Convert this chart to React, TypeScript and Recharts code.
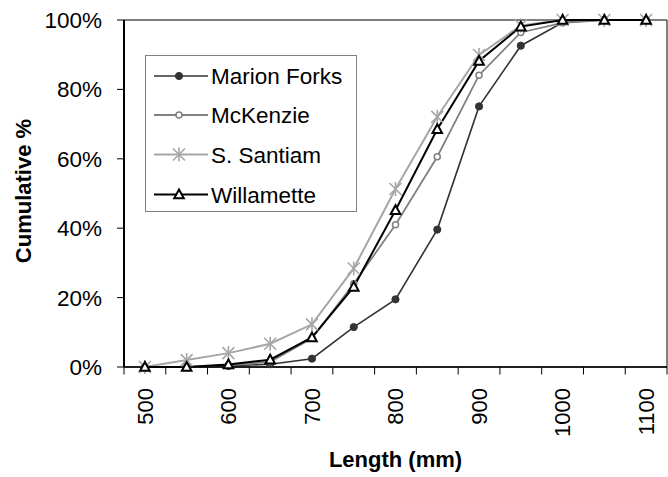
import React from 'react';
import { LineChart, Line, XAxis, YAxis, CartesianGrid, Legend, Label } from 'recharts';

const categories = ['500', '550', '600', '650', '700', '750', '800', '850', '900', '950', '1000', '1050', '1100'];
const marionForks = [0, 0, 0.3, 0.8, 2.4, 11.5, 19.5, 39.6, 75.1, 92.6, 99.3, 100, 100];
const mcKenzie = [0, 0, 0.5, 1.5, 8.3, 24, 41, 60.6, 84.1, 96.4, 99.2, 100, 100];
const sSantiam = [0, 2, 4, 6.7, 12.3, 28.4, 51.3, 72.1, 89.9, 98.4, 100, 100, 100];
const willamette = [0, 0, 0.7, 2.1, 8.5, 23.1, 45.2, 68.5, 88.2, 98.1, 100, 100, 100];
const yTicks = [0, 20, 40, 60, 80, 100];
const labeledCategories = ['500', '600', '700', '800', '900', '1000', '1100'];

const data = categories.map((c, i) => ({
  length: c,
  marion: marionForks[i],
  mckenzie: mcKenzie[i],
  santiam: sSantiam[i],
  willamette: willamette[i],
}));

const FONT = "Arial, 'Liberation Sans', sans-serif";
const W = 668;
const H = 477;
const PLOT_LEFT = 124;
const PLOT_RIGHT = 667;
const BAND = (PLOT_RIGHT - PLOT_LEFT) / categories.length;

const COLORS = {
  marion: '#333333',
  mckenzie: '#808080',
  santiam: '#a6a6a6',
  willamette: '#000000',
};

type MarkerKind = 'filled' | 'open' | 'star' | 'triangle';

function Marker({ kind, cx, cy, color }: { kind: MarkerKind; cx: number; cy: number; color: string }) {
  if (kind === 'filled') return <circle cx={cx} cy={cy} r={3.6} fill={color} stroke={color} strokeWidth={1} />;
  if (kind === 'open') return <circle cx={cx} cy={cy} r={3} fill="#fff" stroke={color} strokeWidth={1.5} />;
  if (kind === 'star') {
    const s = 6;
    return (
      <g stroke={color} strokeWidth={1.6}>
        <line x1={cx} y1={cy - s - 1} x2={cx} y2={cy + s + 1} />
        <line x1={cx - s} y1={cy - s} x2={cx + s} y2={cy + s} />
        <line x1={cx - s} y1={cy + s} x2={cx + s} y2={cy - s} />
      </g>
    );
  }
  return (
    <polygon
      points={`${cx},${cy - 5} ${cx + 4.8},${cy + 3.8} ${cx - 4.8},${cy + 3.8}`}
      fill="#fff"
      stroke={color}
      strokeWidth={2}
    />
  );
}

const makeDot = (kind: MarkerKind, color: string) => (props: any) => {
  const { cx, cy, index } = props;
  if (cx == null || cy == null) return <g key={index} />;
  return <Marker key={index} kind={kind} cx={cx} cy={cy} color={color} />;
};

const seriesDefs = [
  { key: 'marion', name: 'Marion Forks', color: COLORS.marion, kind: 'filled' as MarkerKind, width: 1.6 },
  { key: 'mckenzie', name: 'McKenzie', color: COLORS.mckenzie, kind: 'open' as MarkerKind, width: 1.8 },
  { key: 'santiam', name: 'S. Santiam', color: COLORS.santiam, kind: 'star' as MarkerKind, width: 2 },
  { key: 'willamette', name: 'Willamette', color: COLORS.willamette, kind: 'triangle' as MarkerKind, width: 2 },
];

const XTick = (props: any) => {
  const { x, y, payload, index } = props;
  const left = x - BAND / 2;
  const right = x + BAND / 2;
  const show = labeledCategories.includes(String(payload.value));
  const ty = y + 21;
  return (
    <g>
      <line x1={left} y1={y} x2={left} y2={y + 7.5} stroke="#000" strokeWidth={1} />
      {index === categories.length - 1 && (
        <line x1={right} y1={y} x2={right} y2={y + 7.5} stroke="#000" strokeWidth={1} />
      )}
      {show && (
        <text
          x={x}
          y={ty}
          transform={`rotate(-90 ${x} ${ty})`}
          textAnchor="end"
          dy="0.36em"
          fontSize={22}
          fontFamily={FONT}
          fill="#000"
        >
          {payload.value}
        </text>
      )}
    </g>
  );
};

const LegendContent = () => {
  const rows = [21, 60, 99.5, 139.5];
  return (
    <svg width={212} height={157} style={{ display: 'block' }}>
      <rect x={0.5} y={0.5} width={211} height={156} fill="#fff" stroke="#808080" strokeWidth={1} />
      {seriesDefs.map((s, i) => (
        <g key={s.key}>
          <line x1={9} y1={rows[i]} x2={63} y2={rows[i]} stroke={s.color} strokeWidth={s.width} />
          <Marker kind={s.kind} cx={34} cy={rows[i]} color={s.color} />
          <text x={66} y={rows[i]} dy="0.36em" fontSize={22.5} fontFamily={FONT} fill="#000">
            {s.name}
          </text>
        </g>
      ))}
    </svg>
  );
};

export default function App() {
  return (
    <div style={{ position: 'absolute', left: 0, top: 0, width: W, height: H, background: '#fff' }}>
      <LineChart
        width={W}
        height={H}
        data={data}
        margin={{ top: 20, right: 0, left: 0, bottom: 0 }}
        style={{ fontFamily: FONT }}
      >
        <CartesianGrid horizontal vertical={false} stroke="#000" strokeWidth={1} />
        <XAxis
          dataKey="length"
          interval={0}
          height={110}
          padding={{ left: BAND / 2, right: BAND / 2 }}
          tickLine={false}
          tickSize={0}
          tickMargin={0}
          axisLine={{ stroke: '#000', strokeWidth: 1.5 }}
          tick={<XTick />}
        >
          <Label
            content={() => (
              <text x={395.5} y={467} textAnchor="middle" fontSize={22} fontWeight="bold" fontFamily={FONT} fill="#000">
                Length (mm)
              </text>
            )}
          />
        </XAxis>
        <YAxis
          yAxisId="left"
          width={PLOT_LEFT}
          domain={[0, 100]}
          ticks={yTicks}
          tickFormatter={(v: number) => `${v}%`}
          tickSize={7}
          tickMargin={15}
          tick={{ fontSize: 22.5, fill: '#000', fontFamily: FONT }}
          tickLine={{ stroke: '#000' }}
          axisLine={{ stroke: '#000', strokeWidth: 2 }}
        >
          <Label
            content={() => (
              <text
                x={23}
                y={191}
                transform="rotate(-90 23 191)"
                textAnchor="middle"
                dy="0.36em"
                fontSize={22}
                fontWeight="bold"
                fontFamily={FONT}
                fill="#000"
              >
                Cumulative %
              </text>
            )}
          />
        </YAxis>
        <YAxis
          yAxisId="right"
          orientation="right"
          width={1}
          domain={[0, 100]}
          tick={false}
          tickLine={false}
          axisLine={{ stroke: '#000', strokeWidth: 1 }}
        />
        <Legend
          layout="horizontal"
          verticalAlign="middle"
          align="center"
          content={<LegendContent />}
          wrapperStyle={{ position: 'absolute', left: 145, top: 55, width: 212, height: 157 }}
        />
        {seriesDefs.map((s) => (
          <Line
            key={s.key}
            yAxisId="left"
            type="linear"
            dataKey={s.key}
            name={s.name}
            stroke={s.color}
            strokeWidth={s.width}
            dot={makeDot(s.kind, s.color)}
            activeDot={false}
            isAnimationActive={false}
          />
        ))}
      </LineChart>
    </div>
  );
}
